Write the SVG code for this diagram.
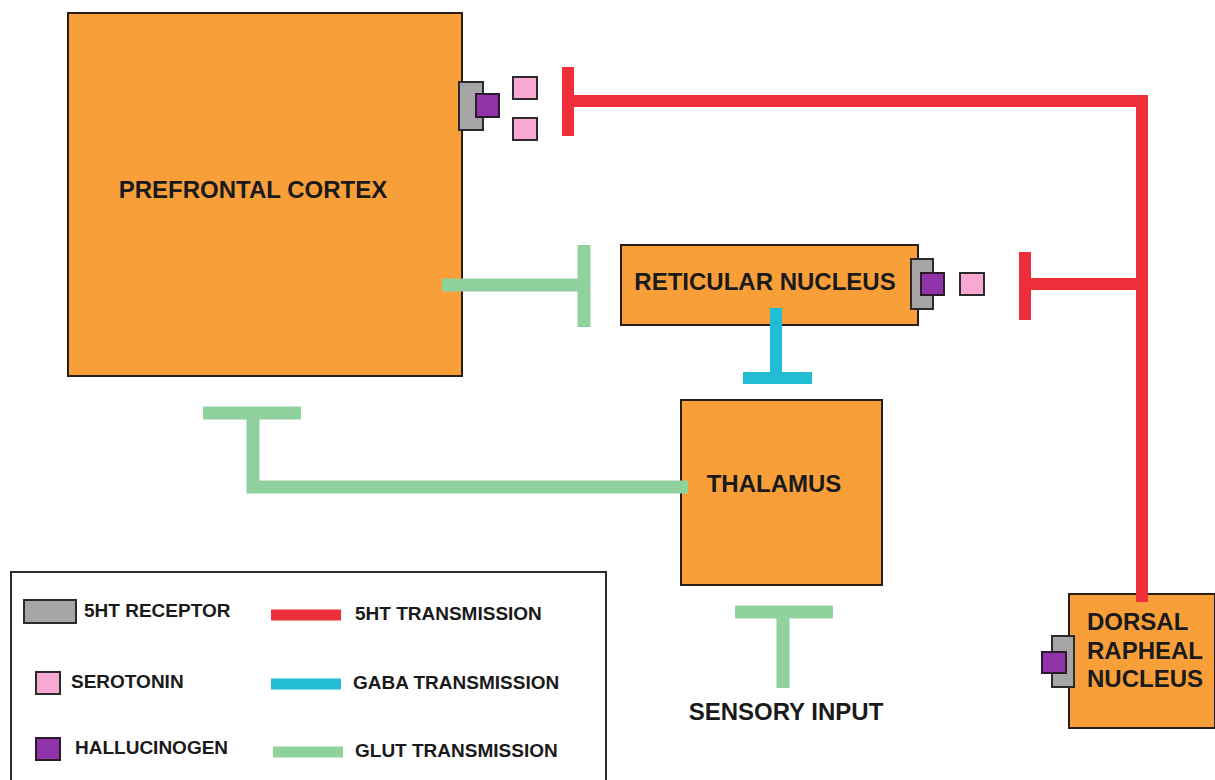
<svg xmlns="http://www.w3.org/2000/svg" width="1215" height="780" viewBox="0 0 1215 780">
<style>
.box{fill:#F89F3A;stroke:#2b1d12;stroke-width:2}
.rec{fill:#A5A5A5;stroke:#2b2b2b;stroke-width:2}
.hal{fill:#9133A8;stroke:#2b1a2b;stroke-width:2}
.ser{fill:#F7A8D3;stroke:#2b2b2b;stroke-width:2}
.t{font-family:"Liberation Sans",Arial,sans-serif;font-weight:bold;fill:#1a1a1a}
.big{font-size:24px}
.sm{font-size:19px}
.red{stroke:#EE2F3A;fill:none;stroke-width:12;stroke-linejoin:miter}
.glu{stroke:#90D29E;fill:none;stroke-width:13}
.gab{stroke:#22BCD4;fill:none;stroke-width:12}
</style>
<rect width="1215" height="780" fill="#ffffff"/>
<g id="prefrontal-cortex">
<rect class="box" x="68" y="13" width="394" height="363"/>
<text class="t big" x="253" y="198" text-anchor="middle">PREFRONTAL CORTEX</text>
<rect class="rec" x="459" y="82" width="24" height="48"/>
<rect class="hal" x="476" y="94" width="23" height="23"/>
<rect class="ser" x="513" y="77" width="24" height="22"/>
<rect class="ser" x="513" y="118" width="24" height="22"/>
</g>
<g id="reticular-nucleus">
<rect class="box" x="621" y="245" width="297" height="80"/>
<text class="t big" x="765" y="290" text-anchor="middle">RETICULAR NUCLEUS</text>
<rect class="rec" x="911" y="259" width="22" height="50"/>
<rect class="hal" x="921" y="273" width="23" height="22"/>
<rect class="ser" x="960" y="273" width="24" height="22"/>
</g>
<g id="thalamus">
<rect class="box" x="681" y="400" width="201" height="185"/>
<text class="t big" x="774" y="492" text-anchor="middle">THALAMUS</text>
</g>
<g id="dorsal-raphe-nucleus">
<rect class="box" x="1069" y="594" width="146" height="134"/>
<text class="t big" x="1087" y="630">DORSAL</text>
<text class="t big" x="1087" y="659">RAPHEAL</text>
<text class="t big" x="1087" y="687">NUCLEUS</text>
<rect class="rec" x="1052" y="636" width="22" height="51"/>
<rect class="hal" x="1042" y="652" width="24" height="21"/>
</g>
<g id="sensory-input">
<text class="t big" x="786" y="720" text-anchor="middle">SENSORY INPUT</text>
</g>
<g id="connectors">
<path class="red" d="M568,101 H1142 V602"/>
<path class="red" d="M568,67 V136"/>
<path class="red" d="M1025,284 H1142"/>
<path class="red" d="M1025,252 V320"/>
<path class="glu" d="M442,285 H584"/>
<path class="glu" d="M584,245 V327"/>
<path class="glu" d="M688,487 H253 V413"/>
<path class="glu" d="M203,413 H301"/>
<path class="glu" d="M783,688 V612"/>
<path class="glu" d="M735,612 H833"/>
<path class="gab" d="M776,308 V378"/>
<path class="gab" d="M743,378 H812"/>
</g>
<g id="legend">
<rect x="11" y="572" width="595" height="215" fill="#ffffff" stroke="#2b2b2b" stroke-width="2"/>
<rect class="rec" x="24" y="600" width="52" height="23"/>
<text class="t sm" x="84" y="617">5HT RECEPTOR</text>
<rect class="ser" x="36" y="672" width="24" height="22"/>
<text class="t sm" x="71" y="688">SEROTONIN</text>
<rect class="hal" x="36" y="738" width="24" height="22"/>
<text class="t sm" x="75" y="754">HALLUCINOGEN</text>
<line x1="271" y1="615" x2="341" y2="615" stroke="#EE2F3A" stroke-width="11"/>
<text class="t sm" x="355" y="620">5HT TRANSMISSION</text>
<line x1="271" y1="684" x2="341" y2="684" stroke="#22BCD4" stroke-width="11"/>
<text class="t sm" x="353" y="689">GABA TRANSMISSION</text>
<line x1="273" y1="752" x2="343" y2="752" stroke="#90D29E" stroke-width="11"/>
<text class="t sm" x="355" y="757">GLUT TRANSMISSION</text>
</g>
</svg>
